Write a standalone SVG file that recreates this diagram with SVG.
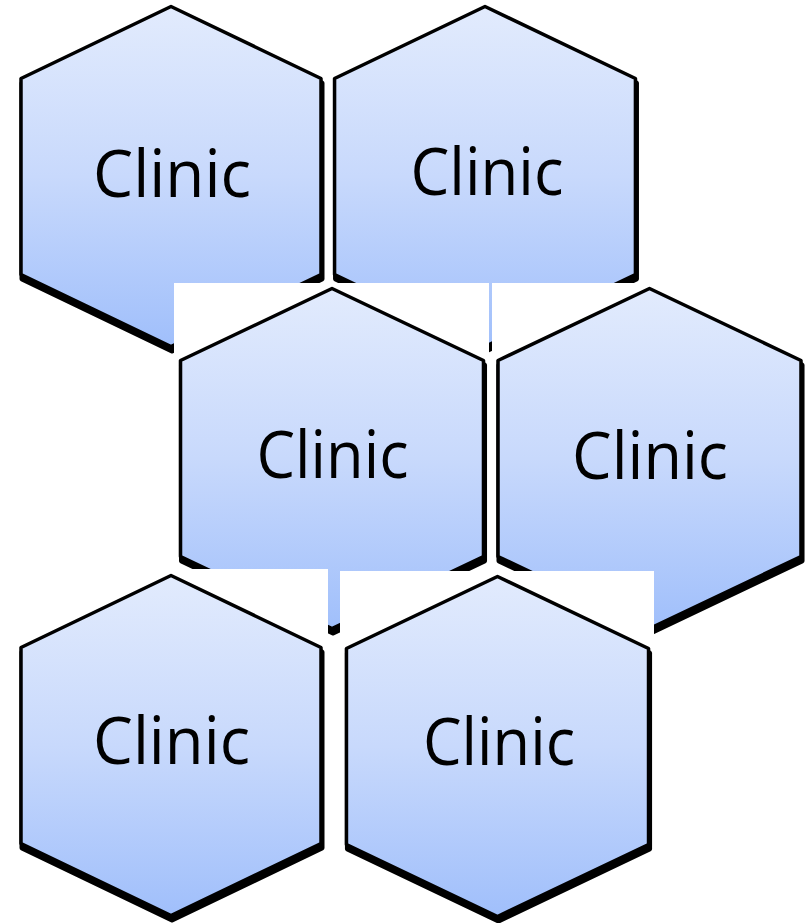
<svg xmlns="http://www.w3.org/2000/svg" width="808" height="923" viewBox="0 0 808 923">
<defs>
<linearGradient id="hexFill" x1="0" y1="0" x2="0" y2="1">
<stop offset="0" stop-color="#E2EBFD"/>
<stop offset="0.5" stop-color="#C8D9FC"/>
<stop offset="1" stop-color="#A0BFFB"/>
</linearGradient>
<polygon id="hexShape" points="0,0 150,72 150,268 0,340 -150,268 -150,72"/>
</defs>
<style>
.bg{fill:#ffffff}
.shadow{fill:#000000;stroke:#000000;stroke-width:5;stroke-linejoin:round}
.hex{fill:url(#hexFill);stroke:#000000;stroke-width:3.5;stroke-linejoin:round}
.label{font-family:"Open Sans","Noto Sans","Liberation Sans",sans-serif;font-size:66px;fill:#000000;text-anchor:middle}
</style>
<rect x="0" y="0" width="808" height="923" fill="#ffffff"/>
<g id="connectors"/>
<g id="clinic1">
<rect class="bg" x="15" y="0" width="313" height="356"/>
<g transform="translate(171,6.5)">
<use href="#hexShape" class="shadow" transform="translate(1,4.5)"/>
<use href="#hexShape" class="hex"/>
</g>
<text class="label" x="172" y="197" textLength="158" lengthAdjust="spacingAndGlyphs">Clinic</text>
</g>
<g id="clinic2">
<rect class="bg" x="328" y="0" width="313" height="356"/>
<g transform="translate(485,6.5) scale(1.003,1)">
<use href="#hexShape" class="shadow" transform="translate(1,4.5)"/>
<use href="#hexShape" class="hex"/>
</g>
<text class="label" x="487" y="195" textLength="153" lengthAdjust="spacingAndGlyphs">Clinic</text>
</g>
<g id="clinic3">
<rect class="bg" x="174" y="283" width="315" height="357"/>
<g transform="translate(332,288.5) scale(1.01,1)">
<use href="#hexShape" class="shadow" transform="translate(1,4.5)"/>
<use href="#hexShape" class="hex"/>
</g>
<text class="label" x="332.5" y="478" textLength="152" lengthAdjust="spacingAndGlyphs">Clinic</text>
</g>
<g id="clinic4">
<rect class="bg" x="492" y="283" width="316" height="357"/>
<g transform="translate(649.5,288.5) scale(1.01,1)">
<use href="#hexShape" class="shadow" transform="translate(1,4.5)"/>
<use href="#hexShape" class="hex"/>
</g>
<text class="label" x="650" y="479" textLength="156" lengthAdjust="spacingAndGlyphs">Clinic</text>
</g>
<g id="clinic5">
<rect class="bg" x="15" y="569" width="313" height="354"/>
<g transform="translate(171,575.5)">
<use href="#hexShape" class="shadow" transform="translate(1,4.5)"/>
<use href="#hexShape" class="hex"/>
</g>
<text class="label" x="171.5" y="764" textLength="157" lengthAdjust="spacingAndGlyphs">Clinic</text>
</g>
<g id="clinic6">
<rect class="bg" x="340" y="571" width="314" height="352"/>
<g transform="translate(497.5,576.5) scale(1.007,1)">
<use href="#hexShape" class="shadow" transform="translate(1,4.5)"/>
<use href="#hexShape" class="hex"/>
</g>
<text class="label" x="499" y="765" textLength="152" lengthAdjust="spacingAndGlyphs">Clinic</text>
</g>
</svg>
